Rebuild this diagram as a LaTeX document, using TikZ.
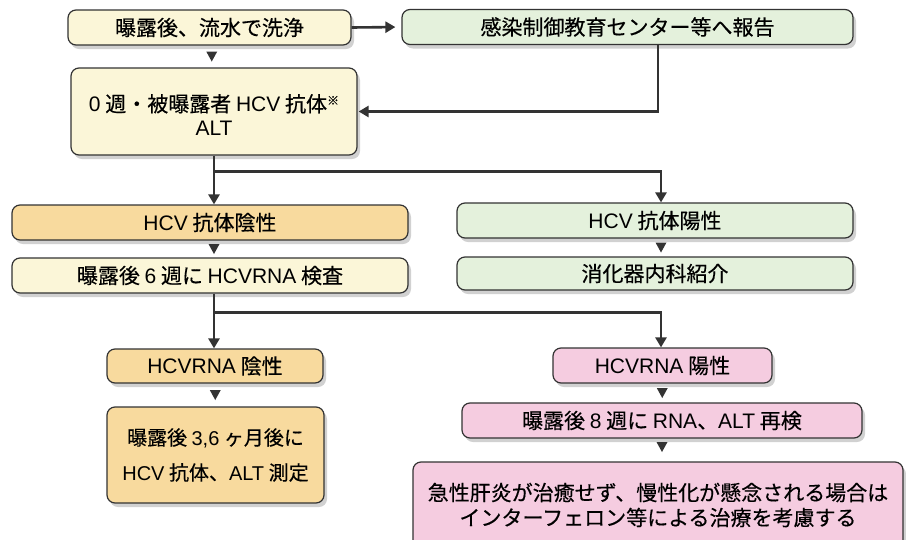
\documentclass[tikz,border=0pt]{standalone}
\usepackage{fontspec}
\setmainfont{Noto Sans CJK JP}[FakeBold=0.4]
\newfontfamily\lat{Liberation Sans}
\usetikzlibrary{shadows,arrows.meta,calc}
\definecolor{creamc}{HTML}{FBF6D8}
\definecolor{greenc}{HTML}{E4F1DC}
\definecolor{tanc}{HTML}{F8DA9E}
\definecolor{pinkc}{HTML}{F5CCE0}
\definecolor{inkc}{HTML}{333333}
\tikzset{
  box/.style={draw=inkc, line width=1.2pt, rounded corners=8pt, minimum height=35pt,
    inner sep=0pt, align=center, font=\fontsize{21}{27}\selectfont,
    drop shadow={shadow xshift=3pt, shadow yshift=-4pt, fill=black, opacity=0.18}},
  conn/.style={draw=inkc, line width=2.6pt, -{Triangle[length=10pt,width=11pt]}},
  downtri/.pic={\fill[inkc] (-5.5,-5) -- (5.5,-5) -- (0,5) -- cycle;}
}
\begin{document}
\begin{tikzpicture}[x=1pt,y=-1pt]
\clip (0,0) rectangle (906,539);
\fill[white] (0,0) rectangle (906,539);
% boxes
\node[box, fill=creamc, minimum width=283pt] (b1) at (209.5,27.5) {曝露後、流水で洗浄};
\node[box, fill=greenc, minimum width=451pt] (b2) at (627.5,27) {感染制御教育センター等へ報告};
\node[box, fill=creamc, minimum width=286pt, minimum height=87pt] (b3) at (214,111.5) {\raisebox{-12pt}[0pt][0pt]{\begin{tabular}{@{}c@{}}{\lat 0} 週・被曝露者 {\lat HCV} 抗体\raisebox{0.6ex}{\fontsize{12}{12}\selectfont ※}\\[-3pt]{\lat ALT}\end{tabular}}};
\node[box, fill=tanc, minimum width=396pt] (b4) at (210,222.5) {{\lat HCV} 抗体陰性};
\node[box, fill=creamc, minimum width=396pt] (b5) at (210,275.5) {曝露後 {\lat 6} 週に {\lat HCVRNA} 検査};
\node[box, fill=greenc, minimum width=396pt] (b6) at (655,220.5) {{\lat HCV} 抗体陽性};
\node[box, fill=greenc, minimum width=396pt, minimum height=33pt] (b7) at (655,273.5) {消化器内科紹介};
\node[box, fill=tanc, minimum width=216pt, minimum height=34pt] (b8) at (215,366) {{\lat HCVRNA} 陰性};
\node[box, fill=tanc, minimum width=217pt, minimum height=96pt, font=\fontsize{20}{35}\selectfont] (b9) at (215.5,455) {曝露後 {\lat 3,6} ヶ月後に\\{\lat HCV} 抗体、{\lat ALT} 測定};
\node[box, fill=pinkc, minimum width=219pt] (b10) at (662.5,365.5) {{\lat HCVRNA} 陽性};
\node[box, fill=pinkc, minimum width=400pt] (b11) at (662,420.5) {曝露後 {\lat 8} 週に {\lat RNA}、{\lat ALT} 再検};
\node[box, fill=pinkc, minimum width=490pt, minimum height=86pt, font=\fontsize{21}{25}\selectfont] (b12) at (658,505) {急性肝炎が治癒せず、慢性化が懸念される場合は\\インターフェロン等による治療を考慮する};
% connectors
\draw[conn, shorten >=6pt] (b1.east) -- (b2.west);
\draw[conn, shorten >=1pt] ([xshift=30.5pt]b2.south) |- (b3.east);
\draw[conn] (b3.south) -- (b3.south |- b4.north);
\coordinate (j1) at ($(b3.south)+(0,16)$);
\draw[conn] (j1) -| ([xshift=6pt]b6.north);
\coordinate (s5) at (b5.south -| b3.south);
\draw[conn] (s5) -- (s5 |- b8.north);
\coordinate (j2) at ($(s5)+(0,19)$);
\draw[conn] (j2) -| ([xshift=-1.5pt]b10.north);
% small triangles
\path (b1.south) -- coordinate[midway] (t1) (b3.north);
\pic at (t1) {downtri};
\coordinate (t2) at ($(b4.south)!0.5!(b5.north)+(4,0)$);
\pic at (t2) {downtri};
\coordinate (t3) at ($(b6.south)!0.5!(b7.north)+(6,0)$);
\pic at (t3) {downtri};
\path (b8.south) -- coordinate[midway] (t4) (b9.north);
\pic at (t4) {downtri};
\path (b10.south) -- coordinate[midway] (t5) (b11.north);
\pic at (t5) {downtri};
\coordinate (t6) at ($(b11.south)!0.5!(b12.north)+(2,-3)$);
\pic at (t6) {downtri};
\end{tikzpicture}
\end{document}
